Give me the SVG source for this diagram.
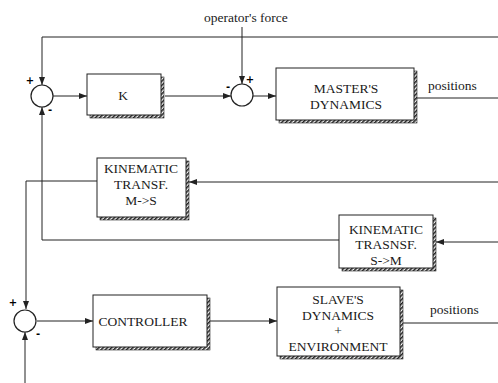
<svg xmlns="http://www.w3.org/2000/svg" width="498" height="383" viewBox="0 0 498 383">
<style>
.box{fill:#fff;stroke:#222;stroke-width:1}
.sh{fill:url(#hatch);stroke:#222;stroke-width:0.6}
.sum{fill:#fff;stroke:#222;stroke-width:1.2}
.ln{fill:none;stroke:#222;stroke-width:1}
.t{font-family:'Liberation Serif',serif;font-size:13.5px;fill:#1a1a1a;text-anchor:middle}
.s{font-family:'Liberation Serif',serif;font-size:13.5px;fill:#1a1a1a}
.sg{font-family:'DejaVu Sans',sans-serif;font-size:10px;font-weight:bold;fill:#000;text-anchor:middle}
</style>
<defs>
<pattern id="hatch" width="3" height="3" patternUnits="userSpaceOnUse" patternTransform="rotate(45)">
<rect width="3" height="3" fill="#fff"/>
<rect width="1.6" height="3" fill="#222"/>
</pattern>
<marker id="ar" viewBox="0 0 8 6" refX="8" refY="3" markerWidth="8" markerHeight="6" markerUnits="userSpaceOnUse" orient="auto">
<path d="M0,0 L8,3 L0,6 z" fill="#222"/>
</marker>
</defs>

<g id="connectors">
<path class="ln" d="M498,37 H42 V85" marker-end="url(#ar)"/>
<path class="ln" d="M242,27 V84" marker-end="url(#ar)"/>
<path class="ln" d="M53,96 H87" marker-end="url(#ar)"/>
<path class="ln" d="M165,96 H231" marker-end="url(#ar)"/>
<path class="ln" d="M253,96 H276" marker-end="url(#ar)"/>
<path class="ln" d="M417,98 H498"/>
<path class="ln" d="M498,182 H189" marker-end="url(#ar)"/>
<path class="ln" d="M97,181 H26 V309" marker-end="url(#ar)"/>
<path class="ln" d="M339,240 H42 V107" marker-end="url(#ar)"/>
<path class="ln" d="M498,242 H436" marker-end="url(#ar)"/>
<path class="ln" d="M25,383 V332" marker-end="url(#ar)"/>
<path class="ln" d="M37,321 H93" marker-end="url(#ar)"/>
<path class="ln" d="M210,321 H277" marker-end="url(#ar)"/>
<path class="ln" d="M403,323 H498"/>
<text class="s" x="204" y="22">operator's force</text>
<text class="s" x="428" y="90">positions</text>
<text class="s" x="430" y="314">positions</text>
</g>

<g id="sum1">
<circle class="sum" cx="42" cy="96" r="11"/>
<text class="sg" x="30" y="84">+</text>
<text class="sg" x="50" y="113">-</text>
</g>

<g id="sum2">
<circle class="sum" cx="242" cy="95" r="11"/>
<text class="sg" x="228" y="90">-</text>
<text class="sg" x="250" y="83">+</text>
</g>

<g id="sum3">
<circle class="sum" cx="25" cy="321" r="11"/>
<text class="sg" x="13" y="306">+</text>
<text class="sg" x="38" y="337">-</text>
</g>

<g id="k">
<rect class="sh" x="90" y="77" width="74" height="41"/>
<rect class="box" x="87" y="74" width="74" height="41"/>
<text class="t" x="123" y="100">K</text>
</g>

<g id="master">
<rect class="sh" x="279" y="71" width="138" height="52"/>
<rect class="box" x="276" y="68" width="138" height="52"/>
<text class="t" x="346" y="93">MASTER'S</text>
<text class="t" x="346" y="109">DYNAMICS</text>
</g>

<g id="kin-ms">
<rect class="sh" x="100" y="161" width="89" height="59"/>
<rect class="box" x="97" y="158" width="89" height="59"/>
<text class="t" x="141" y="173">KINEMATIC</text>
<text class="t" x="141" y="189">TRANSF.</text>
<text class="t" x="141" y="205">M-&gt;S</text>
</g>

<g id="kin-sm">
<rect class="sh" x="342" y="218" width="94" height="53"/>
<rect class="box" x="339" y="215" width="94" height="53"/>
<text class="t" x="386" y="234">KINEMATIC</text>
<text class="t" x="386" y="249">TRASNSF.</text>
<text class="t" x="386" y="265">S-&gt;M</text>
</g>

<g id="controller">
<rect class="sh" x="96" y="298" width="114" height="52"/>
<rect class="box" x="93" y="295" width="114" height="52"/>
<text class="t" x="143" y="326">CONTROLLER</text>
</g>

<g id="slave">
<rect class="sh" x="280" y="290" width="123" height="69"/>
<rect class="box" x="277" y="287" width="123" height="69"/>
<text class="t" x="338" y="304">SLAVE'S</text>
<text class="t" x="338" y="320">DYNAMICS</text>
<text class="t" x="338" y="335">+</text>
<text class="t" x="338" y="351">ENVIRONMENT</text>
</g>
</svg>
